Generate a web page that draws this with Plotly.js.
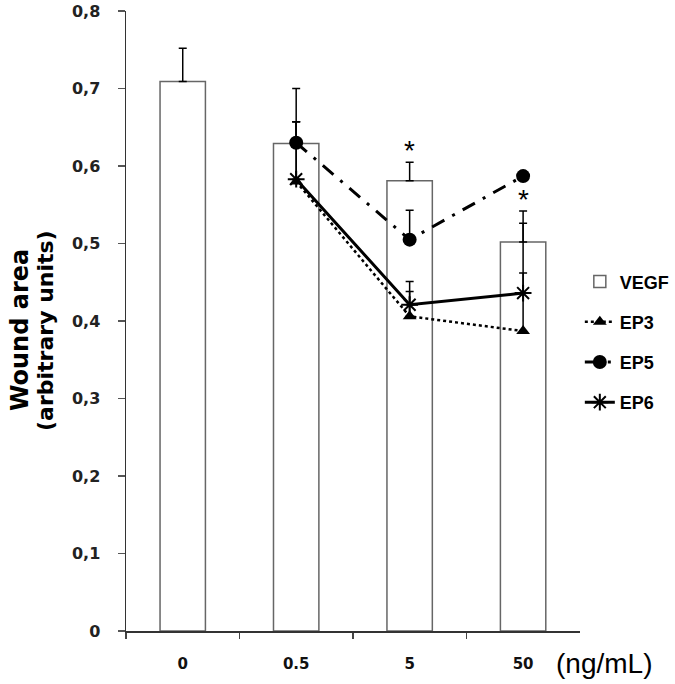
<!DOCTYPE html>
<html>
<head>
<meta charset="utf-8">
<script src="https://cdn.plot.ly/plotly-3.0.1.min.js"></script>
<style>html,body{margin:0;padding:0;background:#fff;}#chart{width:675px;height:684px;}</style>
</head>
<body>
<div id="chart"></div>
<script>
// ---- data ----
const categories = ['0', '0.5', '5', '50'];
const vegfValues = [0.709, 0.629, 0.581, 0.502];
const vegfErr = [0.043, 0.071, 0.024, 0.040];

const epCategories = ['0.5', '5', '50'];
const ep3Values = [0.580, 0.406, 0.387];
const ep3Err = [0.077, 0.032, 0.139];
const ep5Values = [0.630, 0.505, 0.587];
const ep5Err = [0.027, 0.038, 0.0];
const ep6Values = [0.583, 0.421, 0.436];
const ep6Err = [0.074, 0.030, 0.026];

const starCategories = ['5', '50'];
const yTickVals = [0, 0.1, 0.2, 0.3, 0.4, 0.5, 0.6, 0.7, 0.8];

const zeros = n => new Array(n).fill(0);
const errStyle = {color: '#000', thickness: 1.5, width: 4};

const traces = [
  {
    type: 'bar', name: 'VEGF', x: categories, y: vegfValues, width: 0.4,
    marker: {color: '#ffffff', line: {color: '#666', width: 1.5}},
    error_y: Object.assign({type: 'data', symmetric: false, array: vegfErr, arrayminus: zeros(4)}, errStyle),
    legendgroup: 'a'
  },
  {
    type: 'scatter', mode: 'lines+markers', name: 'EP3', x: epCategories, y: ep3Values,
    line: {color: '#000', width: 2.5, dash: 'dot'},
    marker: {symbol: 'triangle-up', size: 12, color: '#000'},
    error_y: Object.assign({type: 'data', symmetric: false, array: ep3Err, arrayminus: zeros(3)}, errStyle),
    legendgroup: 'b'
  },
  {
    type: 'scatter', mode: 'lines+markers', name: 'EP5', x: epCategories, y: ep5Values,
    line: {color: '#000', width: 3, dash: '14px,9px,3px,9px'},
    marker: {symbol: 'circle', size: 14, color: '#000'},
    error_y: Object.assign({type: 'data', symmetric: false, array: ep5Err, arrayminus: zeros(3)}, errStyle),
    legendgroup: 'c'
  },
  {
    type: 'scatter', mode: 'lines+markers', name: 'EP6', x: epCategories, y: ep6Values,
    line: {color: '#000', width: 3},
    marker: {symbol: 'asterisk-open', size: 14, color: '#000', line: {color: '#000', width: 2}},
    error_y: Object.assign({type: 'data', symmetric: false, array: ep6Err, arrayminus: zeros(3)}, errStyle),
    legendgroup: 'd'
  }
];

// significance stars above the VEGF error bars (x given as category index)
const starAnnotations = starCategories.map(c => {
  const i = categories.indexOf(c);
  return {
    x: i, y: vegfValues[i] + vegfErr[i], xref: 'x', yref: 'y', text: '*',
    showarrow: false, yanchor: 'bottom', yshift: -6,
    font: {family: 'Liberation Sans, Arial', size: 28, color: '#000'}
  };
});

const layout = {
  width: 675, height: 684,
  margin: {l: 126, r: 92, t: 11, b: 53},
  paper_bgcolor: '#fff', plot_bgcolor: '#fff',
  separators: ',.',
  showlegend: true,
  xaxis: {
    type: 'category', categoryorder: 'array', categoryarray: categories,
    range: [-0.5, 3.5], showgrid: false, zeroline: false,
    showline: true, linecolor: '#333', linewidth: 1.5,
    ticks: 'outside', tickson: 'boundaries', ticklen: 6, tickcolor: '#444', tickwidth: 1.5,
    ticklabelstandoff: 18,
    tickfont: {family: 'DejaVu Sans', size: 15, color: '#111', weight: 'bold'}
  },
  yaxis: {
    range: [0, 0.8], tickvals: yTickVals, showgrid: false, zeroline: false,
    showline: true, linecolor: '#333', linewidth: 1.5,
    ticks: 'outside', ticklen: 7, tickcolor: '#555', tickwidth: 1.5,
    ticklabelstandoff: 14,
    tickfont: {family: 'DejaVu Sans', size: 16, color: '#222', weight: 'bold'}
  },
  legend: {
    xref: 'container', yref: 'container',
    x: 0.859, xanchor: 'left', y: 0.615, yanchor: 'top',
    traceorder: 'grouped', tracegroupgap: 13.8,
    bgcolor: 'rgba(0,0,0,0)',
    font: {family: 'Liberation Sans, Arial', size: 18, color: '#000', weight: 'bold'}
  },
  annotations: starAnnotations.concat([
    {
      xref: 'paper', yref: 'paper', x: -0.234, y: 0.485, xanchor: 'center', yanchor: 'middle',
      text: 'Wound area', textangle: -90, showarrow: false,
      font: {family: 'DejaVu Sans', size: 24, color: '#000', weight: 'bold'}
    },
    {
      xref: 'paper', yref: 'paper', x: -0.177, y: 0.485, xanchor: 'center', yanchor: 'middle',
      text: '(arbitrary units)', textangle: -90, showarrow: false,
      font: {family: 'DejaVu Sans', size: 22, color: '#000', weight: 'bold'}
    },
    {
      xref: 'paper', yref: 'paper', x: 1.0, y: -0.052, xanchor: 'left', yanchor: 'middle',
      xshift: -26,
      text: '(ng/mL)', showarrow: false,
      font: {family: 'Liberation Sans, Arial', size: 28, color: '#000'}
    }
  ])
};

Plotly.newPlot('chart', traces, layout, {displayModeBar: false, staticPlot: true});
</script>
</body>
</html>
